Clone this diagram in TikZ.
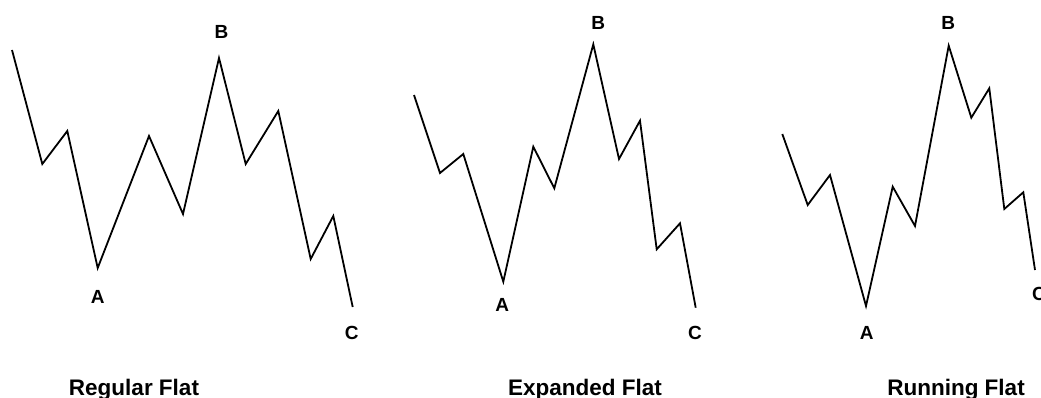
\documentclass[tikz,border=0pt]{standalone}
\usepackage{fontspec}
\setmainfont{Liberation Sans}
\begin{document}
\begin{tikzpicture}[x=1pt,y=-1pt,
  wave/.style={line width=1.8pt, line join=miter},
  ptlabel/.style={inner sep=0pt, font=\fontsize{19}{22}\selectfont\bfseries},
  title/.style={inner sep=0pt, anchor=base, font=\fontsize{22.5}{26}\selectfont\bfseries}]
\useasboundingbox (0,0) rectangle (1041,398);
% Regular Flat
\coordinate (r0) at (12,50);
\coordinate (r1) at (42.3,164);
\coordinate (r2) at (67.3,131);
\coordinate (rA) at (97.7,268);
\coordinate (r4) at (149,136);
\coordinate (r5) at (183,214);
\coordinate (rB) at (219,58);
\coordinate (r7) at (245.7,164);
\coordinate (r8) at (278.3,111);
\coordinate (r9) at (310.7,259);
\coordinate (r10) at (333.3,216);
\coordinate (rC) at (352.7,307);
\draw[wave] (r0) -- (r1) -- (r2) -- (rA) -- (r4) -- (r5) -- (rB) -- (r7) -- (r8) -- (r9) -- (r10) -- (rC);
\node[ptlabel] (rlA) at (97.7,297) {A};
\node[ptlabel] (rlB) at (221.5,32) {B};
\node[ptlabel] (rlC) at (351.7,333) {C};
\node[title] (rt) at (134,395) {Regular Flat};
% Expanded Flat
\coordinate (e0) at (414,95);
\coordinate (e1) at (440,173);
\coordinate (e2) at (463.3,154);
\coordinate (eA) at (503.3,281.7);
\coordinate (e4) at (533.3,146.7);
\coordinate (e5) at (554.3,188.3);
\coordinate (eB) at (593.3,44.3);
\coordinate (e7) at (619,159);
\coordinate (e8) at (640,120.7);
\coordinate (e9) at (656.7,249.3);
\coordinate (e10) at (680,223.3);
\coordinate (eC) at (695.7,307.7);
\draw[wave] (e0) -- (e1) -- (e2) -- (eA) -- (e4) -- (e5) -- (eB) -- (e7) -- (e8) -- (e9) -- (e10) -- (eC);
\node[ptlabel] (elA) at (502.3,305) {A};
\node[ptlabel] (elB) at (598.3,23.3) {B};
\node[ptlabel] (elC) at (695,333) {C};
\node[title] (et) at (585,395) {Expanded Flat};
% Running Flat
\coordinate (n0) at (782.3,134);
\coordinate (n1) at (807.7,205);
\coordinate (n2) at (830,175);
\coordinate (nA) at (866,306);
\coordinate (n4) at (892.7,186.7);
\coordinate (n5) at (915,226);
\coordinate (nB) at (948.7,45.7);
\coordinate (n7) at (971.3,117.7);
\coordinate (n8) at (989.3,88.3);
\coordinate (n9) at (1004.3,209);
\coordinate (n10) at (1023.3,192.3);
\coordinate (nC) at (1035,270);
\draw[wave] (n0) -- (n1) -- (n2) -- (nA) -- (n4) -- (n5) -- (nB) -- (n7) -- (n8) -- (n9) -- (n10) -- (nC);
\node[ptlabel] (nlA) at (866.7,333.3) {A};
\node[ptlabel] (nlB) at (948.3,22.7) {B};
\node[ptlabel] (nlC) at (1039,294) {C};
\node[title] (nt) at (956,395) {Running Flat};
\end{tikzpicture}
\end{document}
